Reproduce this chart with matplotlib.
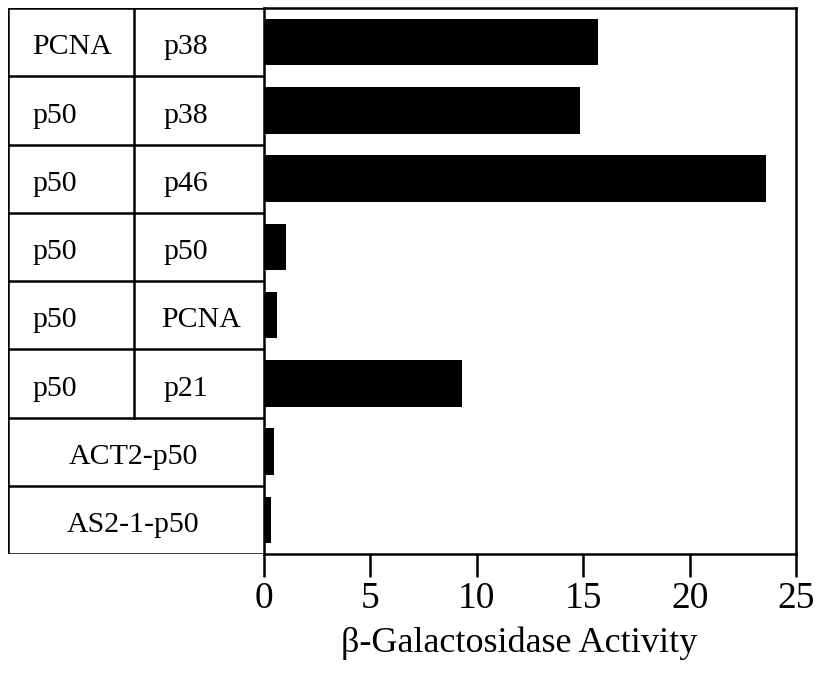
import matplotlib
matplotlib.use("Agg")
from matplotlib import pyplot as plt

# rows from top to bottom
col1 = ["PCNA", "p50", "p50", "p50", "p50", "p50", "ACT2-p50", "AS2-1-p50"]
col2 = ["p38", "p38", "p46", "p50", "PCNA", "p21", "", ""]
activity = [15.7, 14.85, 23.6, 1.05, 0.6, 9.3, 0.45, 0.35]
xticks = [0, 5, 10, 15, 20, 25]


def main():
    plt.rcParams["font.family"] = ["Liberation Serif", "DejaVu Serif"]
    fig = plt.figure(figsize=(8.21, 6.75), dpi=100)
    W, H = 821, 675
    left, right, top, bottom = 264, 796, 8, 554
    ax = fig.add_axes([left / W, 1 - bottom / H, (right - left) / W, (bottom - top) / H])
    tab = fig.add_axes([8 / W, 1 - bottom / H, (left - 8) / W, (bottom - top) / H])

    n = len(activity)
    ypos = list(range(n))
    ax.barh(ypos, activity, height=0.68, color="black")
    ax.set_ylim(n - 0.5, -0.5)
    ax.set_xlim(0, 25)
    ax.set_xticks(xticks)
    ax.set_yticks([])
    ax.tick_params(axis="x", direction="out", length=16.5, width=1.8, labelsize=27, pad=3)
    ax.set_xlabel("β-Galactosidase Activity", fontsize=26)
    ax.xaxis.set_label_coords((519 - left) / (right - left), (bottom - 627) / (bottom - top))
    for s in ax.spines.values():
        s.set_linewidth(1.8)

    # table on the left
    tab.set_xlim(0, 256)
    tab.set_ylim(n - 0.5, -0.5)
    tab.axis("off")
    lw = 1.8
    split = 126
    fs = 21.5
    dy = 0.18
    tab.plot([0, 256], [-0.5, -0.5], color="black", lw=lw)
    tab.plot([0, 0], [-0.5, n - 0.5], color="black", lw=lw)
    tab.plot([0, 256], [n - 0.5, n - 0.5], color="black", lw=lw)
    for i in range(n):
        if i > 0:
            tab.plot([0, 256], [i - 0.5, i - 0.5], color="black", lw=lw)
        if col2[i]:
            tab.plot([split, split], [i - 0.5, i + 0.5], color="black", lw=lw)
            tab.text(24, i + dy, col1[i], ha="left", va="baseline", fontsize=fs)
            x2 = 153 if col2[i] == "PCNA" else 155
            tab.text(x2, i + dy, col2[i], ha="left", va="baseline", fontsize=fs)
        else:
            tab.text(125, i + dy, col1[i], ha="center", va="baseline", fontsize=fs)

    fig.savefig("out.png", dpi=100)


if __name__ == "__main__":
    main()
